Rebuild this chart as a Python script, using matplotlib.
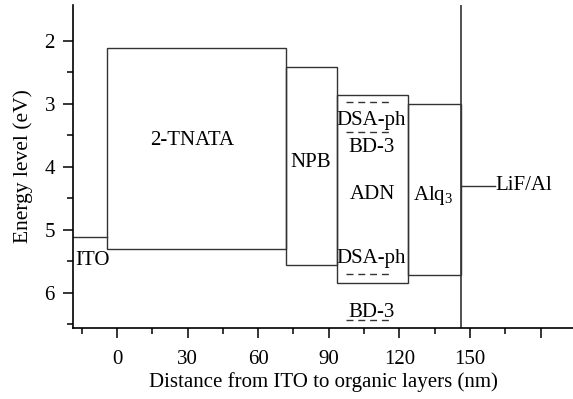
import matplotlib
matplotlib.use("Agg")
import matplotlib.pyplot as plt
from matplotlib.patches import Rectangle

plt.rcParams['font.family'] = ['Liberation Serif', 'DejaVu Serif']
plt.rcParams['mathtext.fontset'] = 'custom'
plt.rcParams['mathtext.rm'] = 'Liberation Serif'
plt.rcParams['mathtext.it'] = 'Liberation Serif:italic'

# layer boxes: name, x from, x to, LUMO (top), HOMO (bottom)
layers = ['2-TNATA', 'NPB', 'ADN', 'Alq$_3$']
x_left = [-4.2, 71.8, 93.7, 123.8]
x_right = [71.8, 93.7, 123.8, 146.0]
lumo = [2.11, 2.41, 2.86, 3.0]
homo = [5.3, 5.56, 5.85, 5.72]
label_x = [32, 82.5, 108.5, 134.5]
label_y = [3.58, 3.93, 4.44, 4.45]

# dopant levels inside ADN (dashed)
dop_names = ['DSA-ph', 'BD-3', 'DSA-ph', 'BD-3']
dop_level = [2.97, 3.44, 5.7, 6.43]
dop_label_y = [3.26, 3.7, 5.45, 6.31]
dop_x0, dop_x1 = 97.5, 116.5

ito_level = 5.12
cathode_x = 146.0
lif_level = 4.3

xticks = [0, 30, 60, 90, 120, 150, 180]
xticklabels = ['0', '30', '60', '90', '120', '150', '']

fig = plt.figure(figsize=(5.73, 3.99), dpi=100)
ax = fig.add_axes([0.1274, 0.1779, 0.8726, 0.8095])
ax.set_xlim(-18.7, 193.8)
ax.set_ylim(6.56, 1.43)

lc = '#333333'
lw = 1.0
fs = 15

for i in range(len(layers)):
    ax.add_patch(Rectangle((x_left[i], lumo[i]), x_right[i] - x_left[i], homo[i] - lumo[i],
                           fill=False, edgecolor=lc, linewidth=lw))
    ax.text(label_x[i], label_y[i], layers[i], ha='center', va='center', fontsize=fs)

for i in range(len(dop_names)):
    ax.plot([dop_x0, dop_x1], [dop_level[i], dop_level[i]], color=lc, lw=lw, ls=(0, (5, 3.5)))
    ax.text(108, dop_label_y[i], dop_names[i], ha='center', va='center', fontsize=fs)

# ITO
ax.plot([-18.7, x_left[0]], [ito_level, ito_level], color=lc, lw=lw)
ax.text(-10.3, 5.48, 'ITO', ha='center', va='center', fontsize=fs)

# cathode
ax.axvline(cathode_x, color=lc, lw=1.2)
ax.plot([cathode_x, 160.6], [lif_level, lif_level], color=lc, lw=lw)
ax.text(161.0, lif_level, 'LiF/Al', ha='left', va='center', fontsize=fs)

ax.spines['top'].set_visible(False)
ax.spines['right'].set_visible(False)
for s in ['left', 'bottom']:
    ax.spines[s].set_linewidth(1.2)

ax.set_xticks(xticks)
ax.set_xticklabels(xticklabels)
ax.set_xticks([-15, 15, 45, 75, 105, 135, 165], minor=True)
ax.set_yticks([2, 3, 4, 5, 6])
ax.set_yticks([2.5, 3.5, 4.5, 5.5, 6.5], minor=True)
ax.tick_params(which='major', direction='out', length=7, width=1.1, labelsize=15, pad=6)
ax.tick_params(axis='x', which='major', pad=9)
ax.tick_params(which='minor', direction='out', length=4, width=1.1)

ax.set_xlabel('Distance from ITO to organic layers (nm)', fontsize=15, labelpad=2)
ax.set_ylabel('Energy level (eV)', fontsize=15.5, labelpad=8)

fig.savefig('out.png', dpi=100)
